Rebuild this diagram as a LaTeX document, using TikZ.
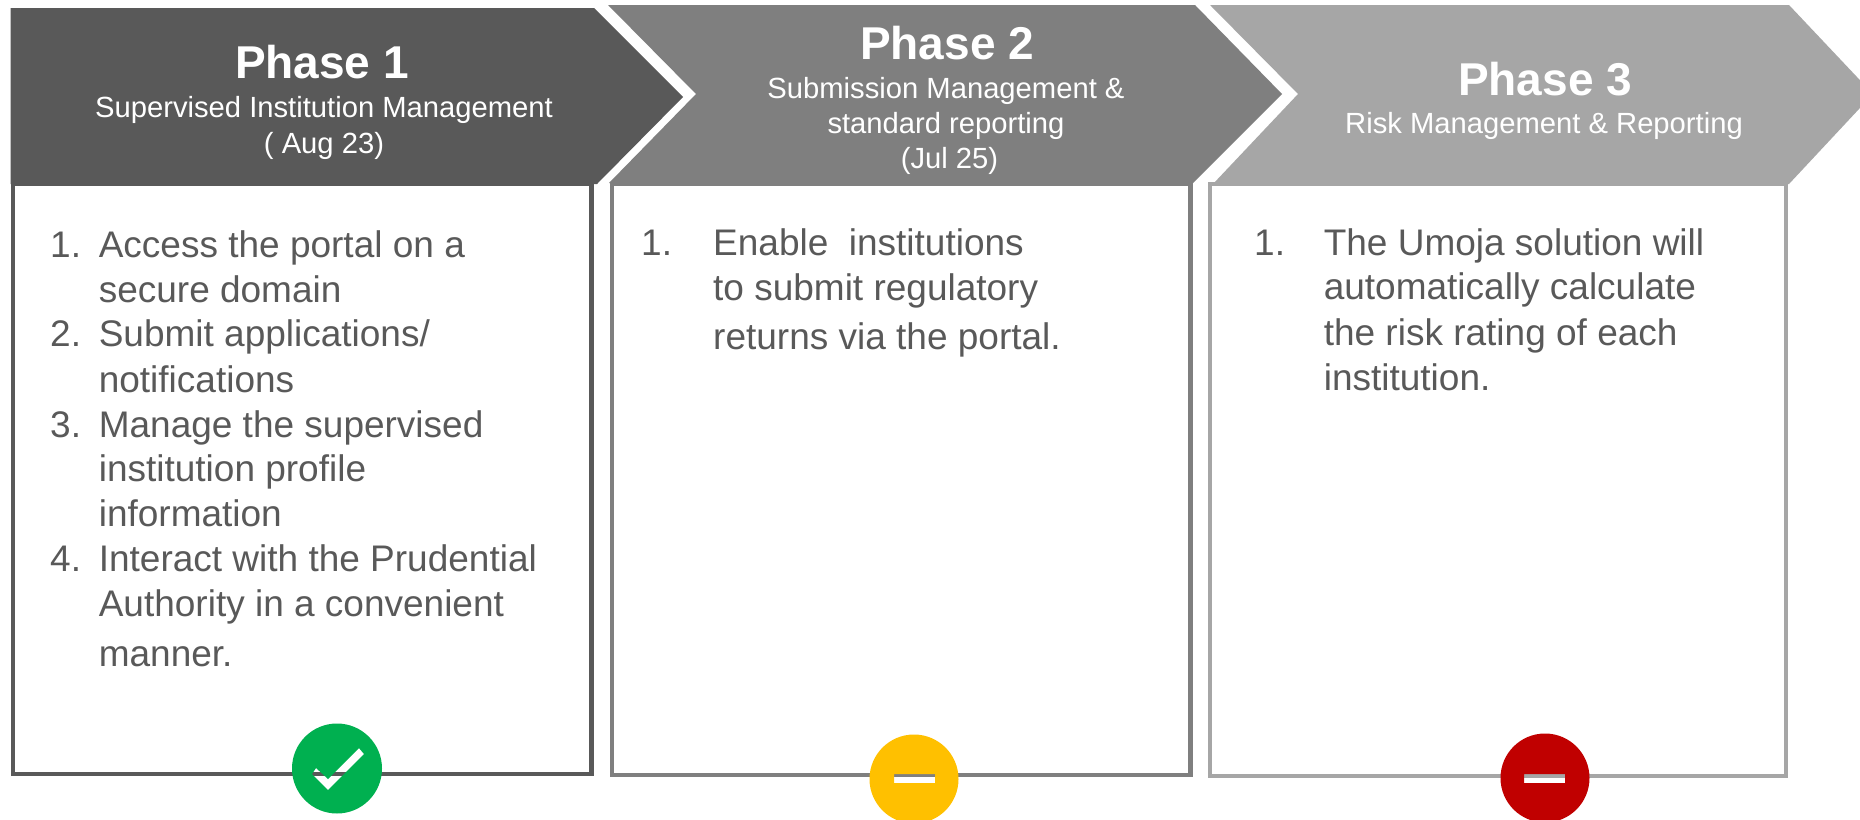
\documentclass[tikz,border=0pt]{standalone}
\usepackage{fontspec}
\setmainfont{Liberation Sans}
\definecolor{pone}{HTML}{595959}
\definecolor{ptwo}{HTML}{7F7F7F}
\definecolor{pthree}{HTML}{A6A6A6}
\definecolor{bodytxt}{HTML}{595959}
\definecolor{okgreen}{HTML}{00B050}
\definecolor{warnyellow}{HTML}{FFC000}
\definecolor{stopred}{HTML}{C00000}
\tikzset{
  panel/.style={line width=4.5pt,fill=white,line join=miter},
  title/.style={anchor=base,inner sep=0pt,text=white,font=\fontsize{46}{50}\selectfont\bfseries},
  subtitle/.style={anchor=base,inner sep=0pt,text=white,font=\fontsize{29.2}{34}\selectfont},
  body/.style={anchor=base west,inner sep=0pt,text=bodytxt,font=\fontsize{37}{44}\selectfont}
}
\begin{document}
\begin{tikzpicture}[x=1pt,y=-1pt]
\useasboundingbox (0,0) rectangle (1860,819);
\clip (0,0) rectangle (1860,819);
\fill[white] (0,0) rectangle (1860,819);
% panels
\draw[panel,draw=pone] (13,184) rectangle (591.5,774);
\draw[panel,draw=ptwo] (612,184) rectangle (1190.5,775);
\draw[panel,draw=pthree] (1210,184) rectangle (1786,776);
% chevrons
\fill[pone] (10.7,8) -- (594,8) -- (683,97) -- (597,184) -- (10.7,184) -- cycle;
\fill[ptwo] (608,5) -- (1195,5) -- (1282,94) -- (1193,183) -- (609,183) -- (696,94) -- cycle;
\fill[pthree] (1210,5) -- (1789,5) -- (1873,94) -- (1789,184) -- (1213,184) -- (1298,94) -- cycle;
% status marks: holes let the panel border show through
\path[fill=okgreen,even odd rule] (337,768.5) circle[radius=45]
  (316,768) -- (328,779) -- (359,748) -- (364,754) -- (328,790) -- (312,774) -- cycle;
\path[fill=warnyellow,even odd rule] (914,779) circle[radius=44.5]
  (894,774) rectangle (935,783);
\path[fill=stopred,even odd rule] (1545,778) circle[radius=44.5]
  (1524,774) rectangle (1565,783);
% headers
\node[title] (t1) at (322,78) {Phase 1};
\node[subtitle] (s1a) at (324,117) {Supervised Institution Management};
\node[subtitle] (s1b) at (324,153) {( Aug 23)};
\node[title] (t2) at (947,59) {Phase 2};
\node[subtitle] (s2a) at (946,98) {Submission Management \&};
\node[subtitle] (s2b) at (946,133) {standard reporting};
\node[subtitle] (s2c) at (949.5,168) {(Jul 25)};
\node[title] (t3) at (1545,95) {Phase 3};
\node[subtitle] (s3a) at (1544,133) {Risk Management \& Reporting};
% phase 1 list
\node[body] (n1a) at (50,257) {1.};
\node[body] (l1a) at (98.6,257) {Access the portal on a};
\node[body] (l1b) at (98.6,302) {secure domain};
\node[body] (n1b) at (50,346) {2.};
\node[body] (l1c) at (98.6,346) {Submit applications/};
\node[body] (l1d) at (98.6,392) {notifications};
\node[body] (n1c) at (50,437) {3.};
\node[body] (l1e) at (98.6,437) {Manage the supervised};
\node[body] (l1f) at (98.6,481) {institution profile};
\node[body] (l1g) at (98.6,526) {information};
\node[body] (n1d) at (50,571) {4.};
\node[body] (l1h) at (98.6,571) {Interact with the Prudential};
\node[body] (l1i) at (98.6,616) {Authority in a convenient};
\node[body] (l1j) at (98.6,666) {manner.};
% phase 2 list
\node[body] (n2a) at (641,255) {1.};
\node[body] (l2a) at (713,255) {Enable\ \ institutions};
\node[body] (l2b) at (713,300) {to submit regulatory};
\node[body] (l2c) at (713,349) {returns via the portal.};
% phase 3 list
\node[body] (n3a) at (1254,255) {1.};
\node[body] (l3a) at (1323.6,255) {The Umoja solution will};
\node[body] (l3b) at (1323.6,299) {automatically calculate};
\node[body] (l3c) at (1323.6,345) {the risk rating of each};
\node[body] (l3d) at (1323.6,390) {institution.};
\end{tikzpicture}
\end{document}
